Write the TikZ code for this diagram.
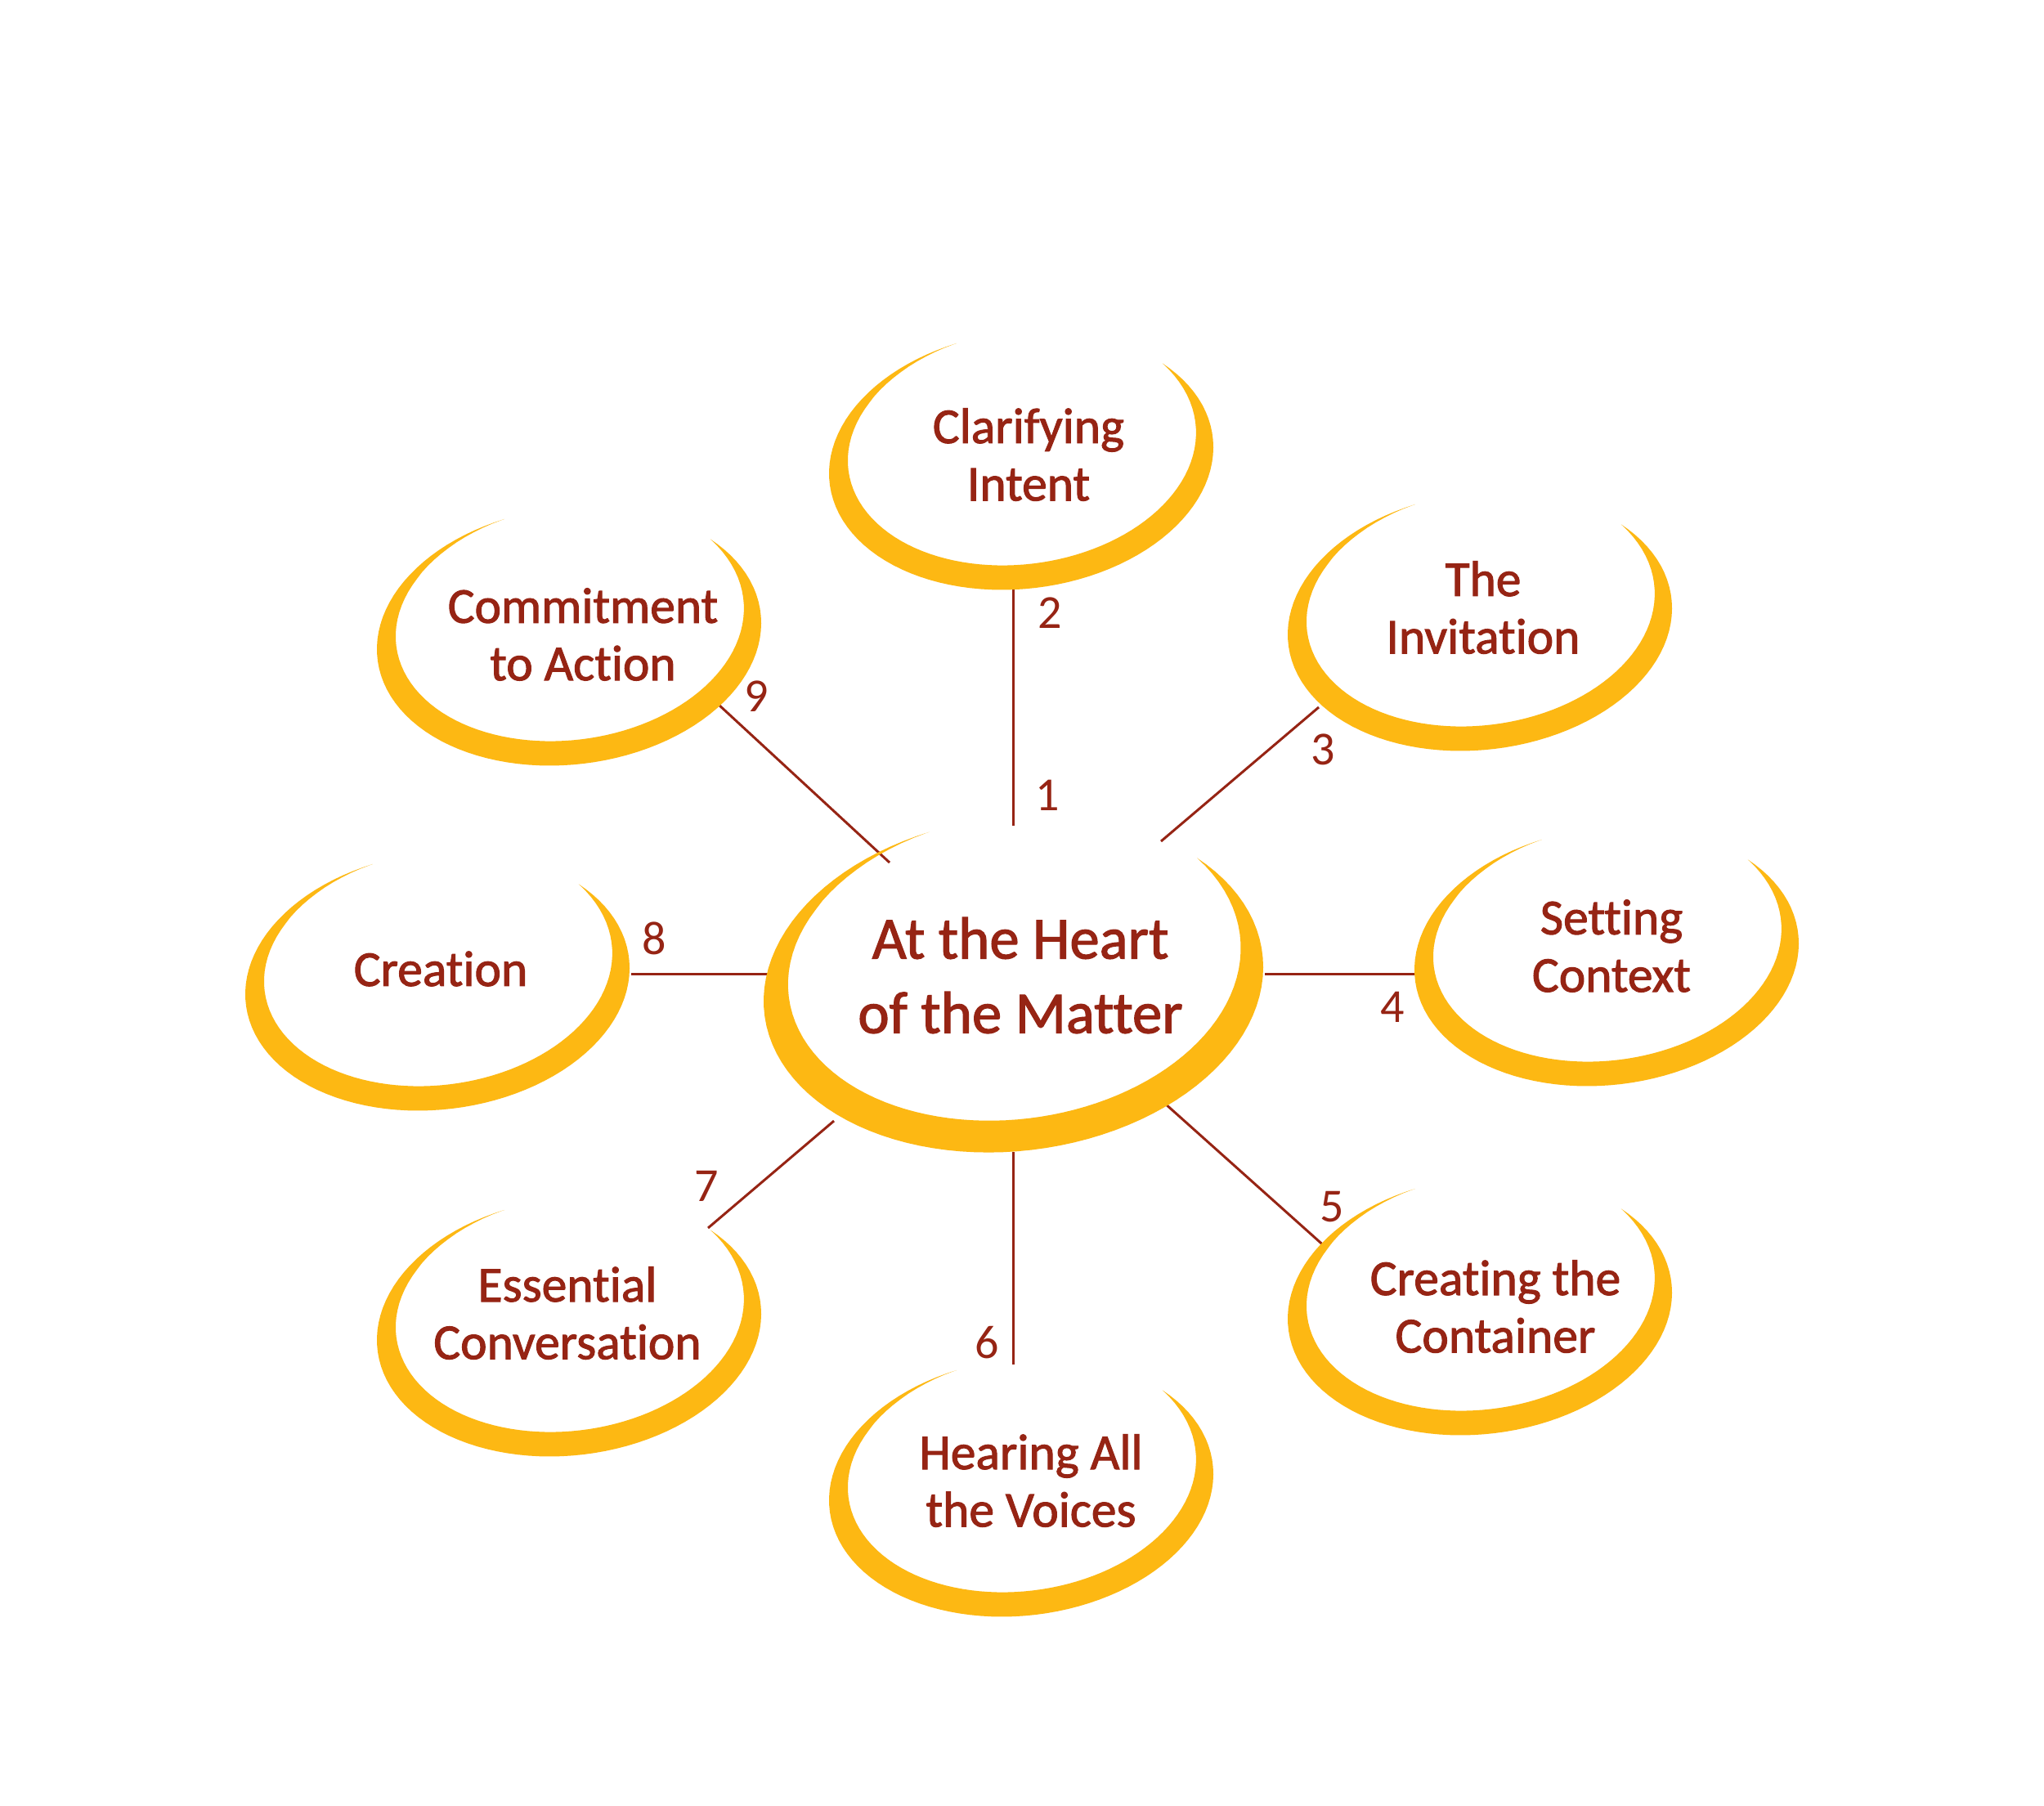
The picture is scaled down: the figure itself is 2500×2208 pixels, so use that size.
\documentclass[tikz,border=0pt]{standalone}
\usepackage{fontspec}
\setmainfont{Carlito}[Ligatures={NoCommon,NoContextual}]
\newfontfamily\lblfont{Carlito}[Ligatures={NoCommon,NoContextual},FakeBold=1.6]
\definecolor{cyellow}{RGB}{253,184,19}
\definecolor{cred}{RGB}{150,36,20}
\tikzset{
  lbl/.style={text=cred, align=center, font=\lblfont\fontsize{17.5}{20}\selectfont, inner sep=0pt},
  biglbl/.style={text=cred, align=center, font=\lblfont\fontsize{20.7}{25.9}\selectfont, inner sep=0pt},
  num/.style={text=cred, font=\fontsize{16.5}{18}\selectfont, inner sep=0pt},
  link/.style={draw=cred, line width=0.85pt},
}
% crescent: #1 = left x, #2 = bottom y (pixels), #3 = scale
\newcommand{\crescentshape}[3]{%
\begin{scope}[shift={(#1,#2)},scale=#3]
\fill[cyellow] plot[domain=105:398,samples=90,variable=\t]
 ({235+236*cos(\t)*cos(7)-157*sin(\t)*sin(7)},{-158-236*cos(\t)*sin(7)-157*sin(\t)*cos(7)})
 -- plot[domain=0.001:0.999,samples=90,variable=\s]
 ({235+(1-0.19*sin(180*(1-\s)^1.2))*(236*cos(105+293*(1-\s))*cos(7)-157*sin(105+293*(1-\s))*sin(7))},
  {-158-(1-0.19*sin(180*(1-\s)^1.2))*(236*cos(105+293*(1-\s))*sin(7)+157*sin(105+293*(1-\s))*cos(7))})
 -- cycle;
\end{scope}}
\begin{document}
\begin{tikzpicture}[x=0.01cm,y=-0.01cm]
\fill[white] (0,0) rectangle (2500,2208);
\useasboundingbox (0,0) rectangle (2500,2208);

% connector end points
\coordinate (l1a) at (1239,721);  \coordinate (l1b) at (1239,1010);
\coordinate (l3a) at (1420,1029); \coordinate (l3b) at (1613,865);
\coordinate (l4a) at (1547,1191); \coordinate (l4b) at (1732,1191);
\coordinate (l5a) at (1424,1349); \coordinate (l5b) at (1623,1527);
\coordinate (l6a) at (1239,1409); \coordinate (l6b) at (1239,1669);
\coordinate (l7a) at (1020,1371); \coordinate (l7b) at (866,1502);
\coordinate (l8a) at (772,1191);  \coordinate (l8b) at (941,1191);
\coordinate (l9a) at (878,861);   \coordinate (l9b) at (1088,1055);

\draw[link] (l1a) -- (l1b);
\draw[link] (l3a) -- (l3b);
\draw[link] (l4a) -- (l4b);
\draw[link] (l5a) -- (l5b);
\draw[link] (l6a) -- (l6b);
\draw[link] (l7a) -- (l7b);
\draw[link] (l8a) -- (l8b);
\draw[link] (l9a) -- (l9b);

% crescents
\crescentshape{1014}{721}{1}
\crescentshape{1575}{918}{1}
\crescentshape{1730}{1328}{1}
\crescentshape{1575}{1755}{1}
\crescentshape{1014}{1977}{1}
\crescentshape{461}{1781}{1}
\crescentshape{300}{1358}{1}
\crescentshape{461}{936}{1}
\crescentshape{934}{1409}{1.3}

% labels
\node[lbl] (clar) at (1258,556) {Clarifying\\Intent};
\node[lbl] (invi) at (1814,743) {The\\Invitation};
\node[lbl] (sett) at (1971,1157) {Setting\\Context};
\node[lbl] (cont) at (1829,1598) {Creating the\\Container};
\node[lbl] (hear) at (1261,1811) {Hearing All\\the Voices};
\node[lbl] (esse) at (694,1606) {Essential\\Conversation};
\node[lbl] (crea) at (539,1185) {Creation};
\node[lbl] (comm) at (713,776) {Commitment\\to Action};
\node[biglbl] (heart) at (1248,1193) {At the Heart\\of the Matter};

% numbers
\node[num] (n1) at (1281,973) {1};
\node[num] (n2) at (1284,750) {2};
\node[num] (n3) at (1618,917) {3};
\node[num] (n4) at (1703,1232) {4};
\node[num] (n5) at (1629,1476) {5};
\node[num] (n6) at (1207,1642) {6};
\node[num] (n7) at (864,1451) {7};
\node[num] (n8) at (800,1148) {8};
\node[num] (n9) at (925,852) {9};
\end{tikzpicture}
\end{document}
